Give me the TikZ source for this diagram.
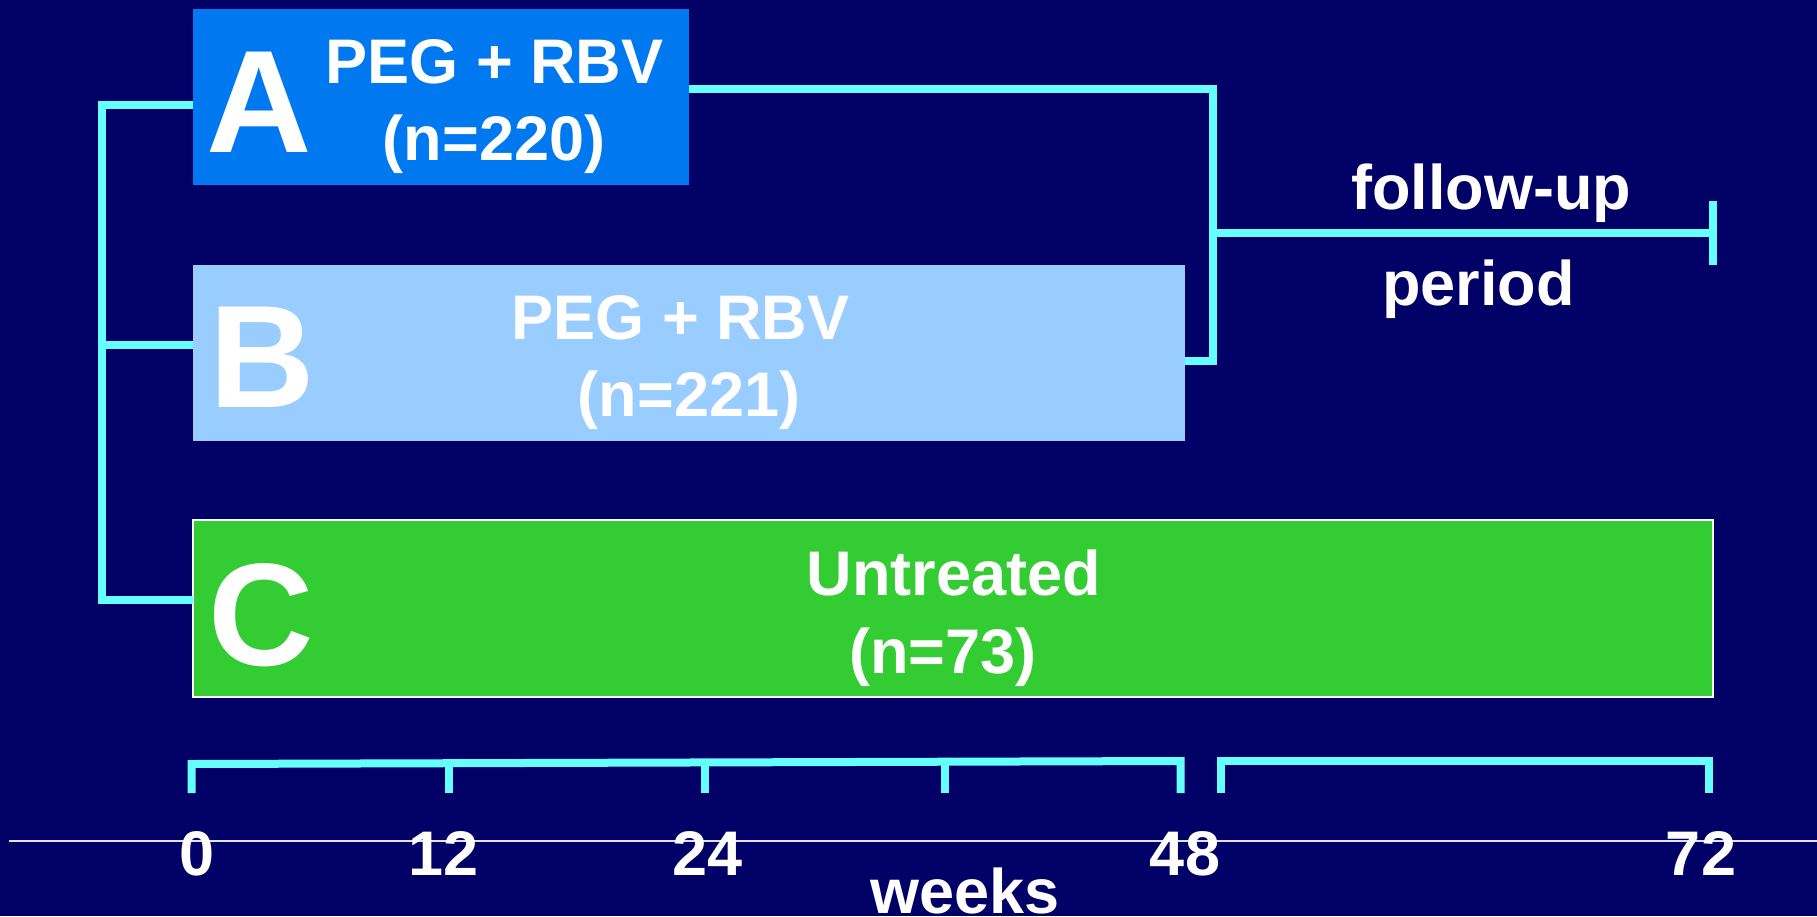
\documentclass[tikz,border=0pt]{standalone}
\usepackage{fontspec}
\setmainfont{Liberation Sans}
\definecolor{bg}{RGB}{0,0,102}
\definecolor{boxa}{RGB}{0,120,240}
\definecolor{boxb}{RGB}{153,204,255}
\definecolor{boxc}{RGB}{51,204,51}
\definecolor{cyanline}{RGB}{102,255,255}
\definecolor{axisgray}{RGB}{225,225,235}
\begin{document}
\begin{tikzpicture}[x=1pt,y=-1pt,
  box/.style={draw=none, inner sep=0pt, outer sep=0pt},
  txt/.style={text=white, inner sep=0pt, font=\bfseries\fontsize{63}{75}\selectfont, anchor=base},
  big/.style={text=white, inner sep=0pt, font=\bfseries\fontsize{146}{160}\selectfont, anchor=base},
  conn/.style={draw=cyanline, line width=8pt, line join=miter},
  axisline/.style={draw=axisgray, line width=2.5pt}]
\fill[bg] (0,0) rectangle (1817,916);
\useasboundingbox (0,0) rectangle (1817,916);

% boxes
\node[box, fill=boxa, minimum width=496pt, minimum height=176pt] (A) at (441,97) {};
\node[box, fill=boxb, minimum width=992pt, minimum height=176pt] (B) at (689,353) {};
\node[box, fill=boxc, draw=white, line width=2pt, minimum width=1520.5pt, minimum height=177pt] (C) at (952.75,608.5) {};

% letters
\node[big] (La) at (259.5,152) {A};
\node[big] (Lb) at (262,407) {B};
\node[big] (Lc) at (261.5,665) {C};

% box texts
\node[txt] (A1) at (494.5,83) {PEG + RBV};
\node[txt] (A2) at (494,160) {(n=220)};
\node[txt] (B1) at (680.5,339) {PEG + RBV};
\node[txt] (B2) at (689,416) {(n=221)};
\node[txt] (C1) at (954,595) {Untreated};
\node[txt] (C2) at (943,673) {(n=73)};

% left bracket
\draw[conn] ([yshift=-8pt]A.west) -- ++(-91.5,0) |- ([yshift=8.5pt]C.west);
\draw[conn] ([yshift=8pt]B.west) -- ++(-91.5,0);

% right bracket and follow-up
\draw[conn] ([yshift=8pt]A.east) -- ++(524,0) |- ([yshift=-8pt]B.east);
\coordinate (j) at (1213,233);
\coordinate (fuend) at (1713,233);
\draw[conn] (j) -- (fuend);
\draw[conn] ([yshift=32pt]fuend) -- ([yshift=-32pt]fuend);
\node[txt] (fu1) at (1491,209) {follow-up};
\node[txt] (fu2) at (1478.5,305) {period};

% time brackets
\coordinate (b0) at (191.5,793);
\coordinate (b0t) at (191.5,764);
\coordinate (b48t) at (1180.5,761);
\coordinate (b48) at (1180.5,793);
\draw[conn] (b0) -- (b0t) -- (b48t) -- (b48);
\draw[conn] (449,763) -- (449,793);
\draw[conn] (705,762.5) -- (705,793);
\draw[conn] (945,762) -- (945,793);
\coordinate (c0) at (1220.5,793);
\coordinate (c0t) at (1220.5,761);
\coordinate (c1t) at (1709,761);
\coordinate (c1) at (1709,793);
\draw[conn] (c0) -- (c0t) -- (c1t) -- (c1);

% axis
\coordinate (ax0) at (9,841);
\coordinate (ax1) at (1817,841);
\draw[axisline] (ax0) -- (ax1);
\node[txt] (n0) at (197.5,875) {0};
\node[txt] (n12) at (444,875) {12};
\node[txt] (n24) at (707.5,875) {24};
\node[txt] (n48) at (1185,875) {48};
\node[txt] (n72) at (1701,875) {72};
\node[txt] (wk) at (965,913) {weeks};
\end{tikzpicture}
\end{document}
